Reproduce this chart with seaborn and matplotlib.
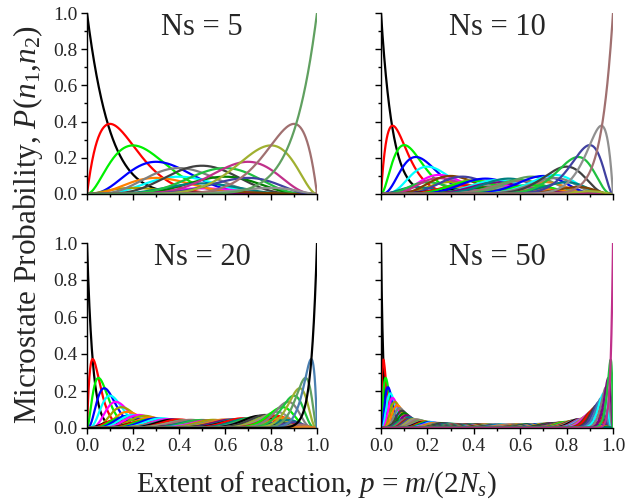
import math
import numpy as np
import pandas as pd
import matplotlib
matplotlib.use("Agg")
import matplotlib.pyplot as plt
from matplotlib.ticker import MultipleLocator
import seaborn as sns

# ---- data ----
NS_VALUES = [5, 10, 20, 50]
PANEL_TITLES = ["Ns = 5", "Ns = 10", "Ns = 20", "Ns = 50"]
X_TICKS = [0.0, 0.2, 0.4, 0.6, 0.8, 1.0]
Y_TICKS = [0.0, 0.2, 0.4, 0.6, 0.8, 1.0]
X_TICK_LABELS = ["0.0", "0.2", "0.4", "0.6", "0.8", "1.0"]
Y_TICK_LABELS = ["0.0", "0.2", "0.4", "0.6", "0.8", "1.0"]
PALETTE = ["#000000", "#ff0000", "#00f000", "#0000ff", "#00ffff", "#ff00ff",
           "#a0a000", "#ff8000", "#808080", "#404040", "#008000", "#800080",
           "#008080", "#20c040", "#c0308a", "#804000", "#4040a0", "#a0b030",
           "#909090", "#a07070", "#60a060", "#e08020", "#4a7fb0"]
X_LABEL = r"Extent of reaction, $p$ = $m$/(2$N_s$)"
Y_LABEL = r"Microstate Probability, $P$($n_1$,$n_2$)"

sns.set_theme(style="ticks")
plt.rcParams["font.family"] = ["Liberation Serif", "DejaVu Serif"]
plt.rcParams["mathtext.fontset"] = "custom"
plt.rcParams["mathtext.rm"] = "Liberation Serif"
plt.rcParams["mathtext.it"] = "Liberation Serif:italic"
plt.rcParams["mathtext.bf"] = "Liberation Serif:bold"

# grid of extent values, denser near the ends
t = np.linspace(0.0, 1.0, 401)
p_grid = 0.5 - 0.5 * np.cos(np.pi * t)


def microstate_table(ns):
    rows = []
    idx = 0
    for n2 in range(ns + 1):
        for n1 in range(ns + 1 - n2):
            n0 = ns - n1 - n2
            m = n1 + 2 * n2
            coef = float(math.factorial(ns) // (math.factorial(n1) * math.factorial(n2) * math.factorial(n0))) * 2.0 ** n1
            vals = coef * p_grid ** m * (1.0 - p_grid) ** (2 * ns - m)
            rows.append(pd.DataFrame({"p": p_grid, "P": vals, "curve": str(idx)}))
            idx += 1
    return pd.concat(rows, ignore_index=True), idx


fig = plt.figure(figsize=(6.26, 5.03), dpi=100)
W, H = 626.0, 503.0
boxes = [(87, 317, 13, 194), (381, 613, 13, 194), (87, 317, 243, 428), (381, 613, 243, 428)]

for k, (ns, title, box) in enumerate(zip(NS_VALUES, PANEL_TITLES, boxes)):
    x0, x1, y0, y1 = box
    ax = fig.add_axes([x0 / W, 1 - y1 / H, (x1 - x0) / W, (y1 - y0) / H])
    df, n = microstate_table(ns)
    order = [str(i) for i in range(n)]
    pal = {str(i): PALETTE[i % len(PALETTE)] for i in range(n)}
    sns.lineplot(data=df, x="p", y="P", hue="curve", hue_order=order, palette=pal,
                 estimator=None, sort=False, legend=False, lw=1.6, ax=ax)
    ax.set_xlim(0, 1)
    ax.set_ylim(0, 1)
    ax.set_xlabel("")
    ax.set_ylabel("")
    ax.set_xticks(X_TICKS)
    ax.set_yticks(Y_TICKS)
    ax.xaxis.set_minor_locator(MultipleLocator(0.1))
    ax.yaxis.set_minor_locator(MultipleLocator(0.1))
    ax.tick_params(which="major", direction="out", length=4, width=1, labelsize=14, color="black", pad=3)
    ax.tick_params(which="minor", direction="out", length=2, width=1, color="black")
    if k in (0, 2):
        ax.set_yticklabels(Y_TICK_LABELS)
    else:
        ax.set_yticklabels([])
    if k in (2, 3):
        ax.set_xticklabels(X_TICK_LABELS)
    else:
        ax.set_xticklabels([])
    for side in ("top", "right"):
        ax.spines[side].set_visible(False)
    for side in ("left", "bottom"):
        ax.spines[side].set_linewidth(1.0)
        ax.spines[side].set_color("black")
    ax.text(0.5, 1.0, title, transform=ax.transAxes, ha="center", va="top", fontsize=22)

fig.text(0.505, 0.037, X_LABEL, ha="center", va="center", fontsize=21)
fig.text(0.045, 0.553, Y_LABEL, ha="center", va="center", rotation=90, fontsize=22.5)

fig.savefig("out.png", dpi=100)
